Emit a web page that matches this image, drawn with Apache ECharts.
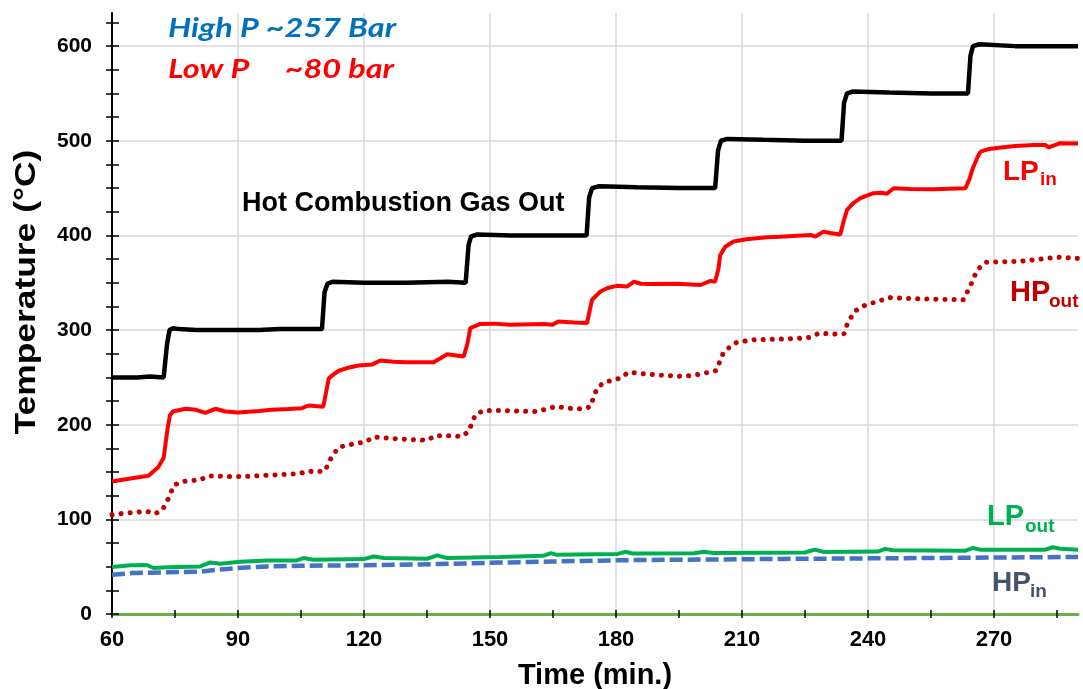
<!DOCTYPE html>
<html><head><meta charset="utf-8">
<script src="https://cdn.jsdelivr.net/npm/echarts@6/dist/echarts.min.js"></script>
<style>html,body{margin:0;padding:0;background:#fff}#c{width:1083px;height:689px}</style>
</head><body><div id="c"></div>
<script>
// Time (min.) vs Temperature (°C)
const hotGasOut = [[60,250],[66,250],[69,251],[72.3,250],[73.1,285],[73.7,300],[74.5,302],[76,301],[80,300],[85,300],[90,300],[95,300],[100,301],[105,301],[110,301],[110.6,340],[111.3,349],[112.5,351],[120,350],[130,350],[140,351],[144.2,350],[144.9,390],[145.5,399],[147,401],[155,400],[165,400],[173,400],[173.6,440],[174.3,450],[176,452],[185,451],[195,450],[203.6,450],[204.3,490],[205,500],[206.5,502],[215,501],[225,500],[233.7,500],[234.3,540],[235,550],[236.3,552],[245,551],[255,550],[263.8,550],[264.4,590],[265,600],[266.5,602],[275,600],[290,600]];
const lpIn = [[60,140],[64,143],[68.7,146],[71,155],[72.3,165],[73.2,195],[73.8,210],[74.5,214],[77.5,216.8],[80,215.7],[82.2,212.5],[84.6,216.8],[87,214],[90,213],[95,214.5],[98,215.7],[102,216.5],[105.2,217.5],[106.8,220.3],[110.3,219],[111,235],[111.6,249],[113,254],[114,257],[116.5,260.5],[118.7,262.5],[121.9,263.5],[123.9,267.8],[127,266.5],[130,266],[136.6,266],[139.8,274.5],[143.7,272],[144.6,285],[145.3,302],[147.7,306.5],[151,306.8],[154.8,305.5],[162.8,306.5],[164.8,305.5],[166.3,309],[170,308],[173.1,307.5],[173.8,322],[174.3,332],[176.3,340.7],[178,344.5],[180.2,346.7],[182.6,346],[184.2,351],[186,349],[188.2,348.6],[194.5,349],[200.1,347.6],[202.5,352],[203.6,351],[204.4,365],[204.8,379],[206,388],[208,393.5],[211,396],[216,398],[219,398.7],[226.3,400.5],[227.5,398.8],[229.4,404],[231,402.5],[233.4,401],[234.2,415],[235,427],[236.5,434],[238.2,439.3],[241.3,444.6],[243.3,445],[244.5,444],[246.1,449.8],[250,449],[255.6,448.7],[263.2,449.8],[264.2,460],[264.8,469],[266,482],[266.8,488.5],[268.5,491],[271.6,493],[275,494.5],[279.5,495.6],[282.2,495.6],[283,493],[285.8,497.4],[290,497]];
const hpOut = [[60,104.9],[63,106.5],[66,107.7],[68.3,108.5],[70.3,106],[72,110],[73.1,119],[74,128],[74.7,136],[76.7,140],[81,141.8],[83,146],[87,145.4],[91.7,145.4],[98.1,146.8],[104.4,148.2],[106.8,151],[108.8,150],[110.8,151.6],[111.6,160.5],[112.8,169.3],[114,176.3],[118.3,180.5],[120.3,181.6],[122.3,187],[128.2,185],[135,183.5],[137,188.3],[141,188.3],[143.3,187.6],[144.9,192.8],[145.7,201.7],[146.5,210.4],[148.5,215],[152.5,215],[161.2,213.9],[165.6,219.2],[170,216.8],[172.3,216.8],[174,219.2],[174.6,228.7],[175.5,238.6],[177.1,244.6],[181,249.2],[183,255.5],[189,252.8],[196.1,251],[200,253.4],[203.9,257.3],[204.7,266.7],[205.6,276.3],[207.2,282.6],[208.8,287.2],[212.8,289.7],[219,290.4],[224,291.4],[226.4,292.5],[228.3,296.7],[232.3,295.7],[234.3,296],[235,305.5],[236.7,319.5],[239,325.6],[241.3,329],[245.2,334.3],[251.5,333],[262.7,332],[264.3,346],[266,363.6],[268,371.7],[276.4,372.7],[285,377],[290,375.7]];
const lpOut = [[60,49.6],[64.4,51.4],[68.3,51.8],[69.9,48.6],[73.1,49.3],[81,50.3],[83.4,54.5],[85.8,53.1],[90.5,55.2],[96.9,56.6],[104,56.6],[105.6,59.1],[108,57.3],[119.9,58],[122.3,60.8],[124.7,59.1],[135,58.4],[137.4,61.9],[139.8,59.1],[152.4,60.1],[162.7,61.5],[164.5,64.3],[165.9,62.5],[180.4,63.5],[182.2,65.7],[184,63.9],[198.6,64.2],[200.9,65.8],[203.1,64.5],[225,65],[227.3,68],[229.6,65.5],[242.3,66],[244.1,68.8],[245.9,67.3],[263.1,66.8],[265,69.8],[266.7,68],[282.2,68],[284,70.5],[285.8,69],[290,68]];
const hpIn = [[60,41.5],[65,43.3],[73,44],[81,44.7],[85,46.8],[90,48.6],[97,50.3],[105,51],[120,51.5],[132,52.2],[145,53.5],[152,54.3],[165,55.5],[184,57],[200,57.5],[220,58.2],[240,58.8],[257,59.2],[275,59.8],[290,60.3]];
const xMinorTicks = [60,75,90,105,120,135,150,165,180,195,210,225,240,255,270,285];
const yMinorTicks = [0,25,50,75,100,125,150,175,200,225,250,275,300,325,350,375,400,425,450,475,500,525,550,575,600,625];

const chart = echarts.init(document.getElementById('c'), null, {renderer:'canvas'});
const AX = {min:60, max:290};
const AY = {min:0, max:635};
const gridC = '#d9d9d9';
const tickStyle = {color:'#000', width:1.5};
function tickX(inside){return Object.assign({type:'value', position:'bottom', gridIndex:0, axisLine:{show:false}, axisLabel:{show:false}, splitLine:{show:false}, axisTick:{show:true, inside:inside, length:4, lineStyle:tickStyle, customValues:xMinorTicks}}, AX);}
function tickY(inside){return Object.assign({type:'value', position:'left', gridIndex:0, axisLine:{show:false}, axisLabel:{show:false}, splitLine:{show:false}, axisTick:{show:true, inside:inside, length:inside?7:6, lineStyle:tickStyle, customValues:yMinorTicks}}, AY);}
const boldArial = 'Liberation Sans, Arial, sans-serif';
function txt(x, y, text, size, color, extra, scaleX){
  return {type:'text', x:x, y:y, z:100, scaleX:scaleX||1, style:Object.assign({text:text, fill:color, fontSize:size, fontWeight:'bold', fontFamily:boldArial, align:'left', verticalAlign:'middle'}, extra||{})};
}
chart.setOption({
  animation:false,
  backgroundColor:'#fff',
  grid:{left:112, right:5, top:13, bottom:75, outerBoundsMode:'none', containLabel:false},
  xAxis:[
    Object.assign({type:'value', interval:30, position:'bottom',
      axisLine:{show:true, onZero:false, lineStyle:{color:'#70ad47', width:3}},
      axisTick:{show:false},
      axisLabel:{show:true, showMaxLabel:false, margin:15, color:'#000', fontSize:22, fontWeight:'bold', fontFamily:'Liberation Sans Narrow, Arial Narrow, Liberation Sans, sans-serif'},
      splitLine:{show:true, showMinLine:false, showMaxLine:false, lineStyle:{color:gridC, width:1.5}},
      name:'Time (min.)', nameLocation:'middle', nameGap:47,
      nameTextStyle:{fontSize:29, fontWeight:'bold', color:'#000', fontFamily:boldArial}
    }, AX),
    tickX(false), tickX(true)
  ],
  yAxis:[
    Object.assign({type:'value', interval:100, position:'left',
      axisLine:{show:true, onZero:false, lineStyle:{color:'#000', width:2}},
      axisTick:{show:false},
      axisLabel:{show:true, showMaxLabel:false, margin:20, color:'#000', fontSize:21, fontWeight:'bold', fontFamily:boldArial},
      splitLine:{show:true, showMinLine:false, showMaxLine:false, lineStyle:{color:gridC, width:1.5}}
    }, AY),
    tickY(false), tickY(true)
  ],
  series:[
    {name:'Hot Combustion Gas Out', type:'line', data:hotGasOut, showSymbol:false, symbol:'none', lineStyle:{color:'#000', width:4.5}, z:5},
    {name:'LP in', type:'line', data:lpIn, showSymbol:false, symbol:'none', lineStyle:{color:'#ff0000', width:4}, z:4},
    {name:'HP out', type:'line', data:hpOut, showSymbol:false, symbol:'none', lineStyle:{color:'#c00000', width:5, type:[0.1,9], cap:'round'}, z:3},
    {name:'LP out', type:'line', data:lpOut, showSymbol:false, symbol:'none', lineStyle:{color:'#00b050', width:4}, z:3},
    {name:'HP in', type:'line', data:hpIn, showSymbol:false, symbol:'none', lineStyle:{color:'#4472c4', width:4.5, type:[13,5]}, z:2}
  ],
  graphic:[
    {type:'text', x:27, y:292, rotation:Math.PI/2, scaleX:1.22, z:100, style:{text:'Temperature (°C)', fill:'#000', fontSize:29, fontWeight:'bold', fontFamily:boldArial, align:'center', verticalAlign:'middle'}},
    txt(168, 28, 'High P ~257 Bar', 27, '#0070c0', {fontStyle:'italic', fontFamily:'Lato, Open Sans, sans-serif'}, 1.2),
    txt(168, 69, 'Low P     ~80 bar', 27, '#ff0000', {fontStyle:'italic', fontFamily:'Lato, Open Sans, sans-serif'}, 1.2),
    txt(242, 204, 'Hot Combustion Gas Out', 27, '#000'),
    txt(1003, 172, 'LP', 28, '#ff0000'),
    txt(1040, 180, 'in', 19, '#ff0000'),
    txt(1010, 292.5, 'HP', 29, '#c00000'),
    txt(1049, 301.7, 'out', 19, '#c00000'),
    txt(987, 516.5, 'LP', 29, '#00b050'),
    txt(1025, 526.7, 'out', 19, '#00b050'),
    txt(992, 583.5, 'HP', 28, '#44546a'),
    txt(1030, 591.7, 'in', 19, '#44546a')
  ]
});
</script></body></html>
